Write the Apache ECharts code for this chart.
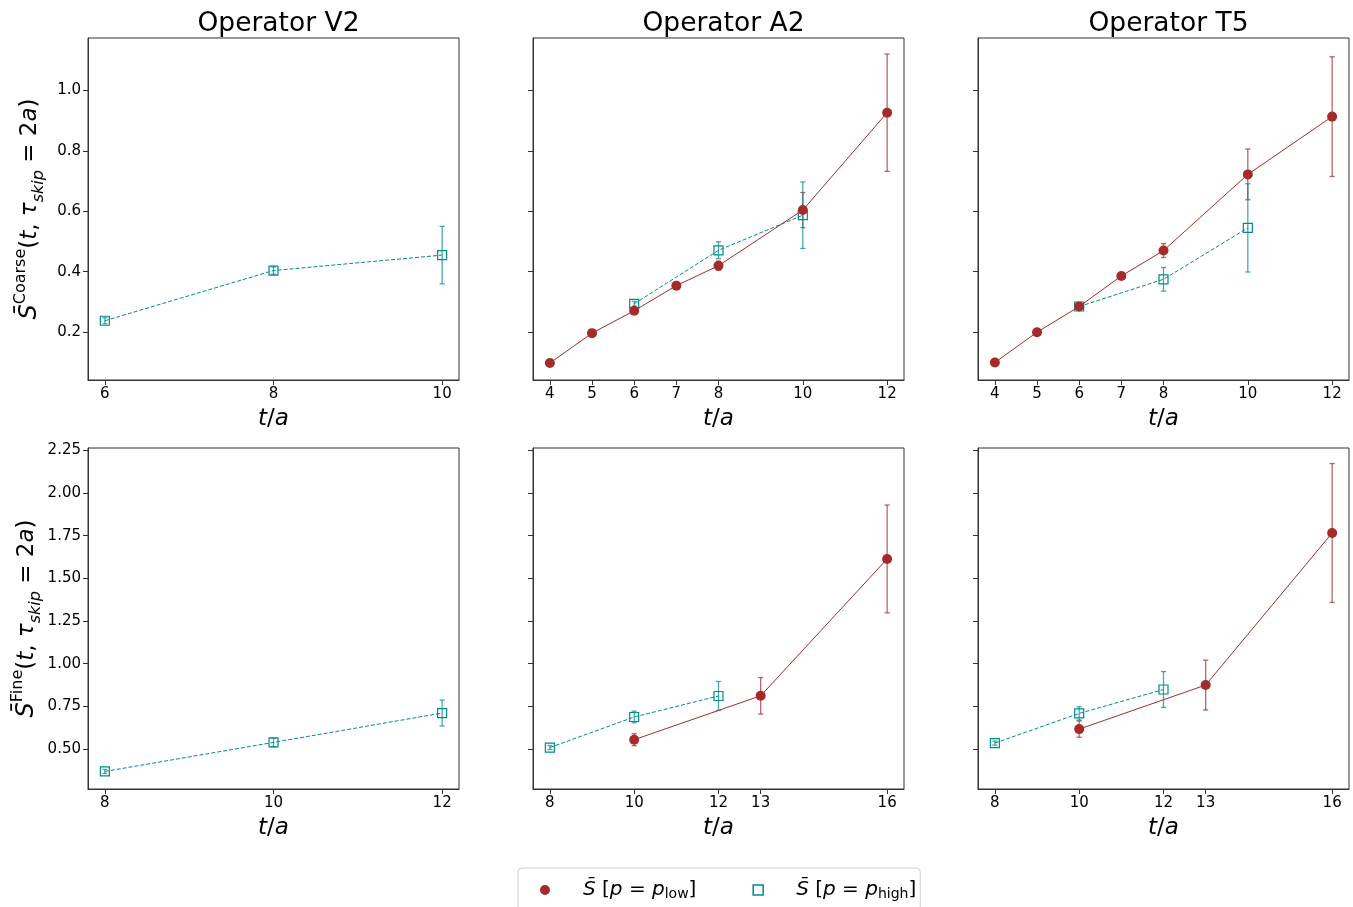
<!DOCTYPE html>
<html>
<head>
<meta charset="utf-8">
<script src="https://cdn.jsdelivr.net/npm/echarts@6/dist/echarts.min.js"></script>
<style>html,body{margin:0;padding:0;background:#fff}#c{width:1353px;height:907px}</style>
</head>
<body>
<div id="c"></div>
<script>
// ---------------- DATA ----------------
const operators = ['Operator V2', 'Operator A2', 'Operator T5'];

// Coarse (top row)
const v2CoarseXHigh = [6, 8, 10];
const v2CoarseYHigh = [0.238, 0.404, 0.455];
const v2CoarseEHigh = [0.010, 0.012, 0.095];

const a2CoarseXLow = [4, 5, 6, 7, 8, 10, 12];
const a2CoarseYLow = [0.098, 0.197, 0.271, 0.354, 0.420, 0.604, 0.926];
const a2CoarseELow = [0.004, 0.004, 0.006, 0.006, 0.015, 0.058, 0.194];
const a2CoarseXHigh = [6, 8, 10];
const a2CoarseYHigh = [0.294, 0.471, 0.587];
const a2CoarseEHigh = [0.008, 0.028, 0.110];

const t5CoarseXLow = [4, 5, 6, 7, 8, 10, 12];
const t5CoarseYLow = [0.100, 0.200, 0.285, 0.386, 0.470, 0.722, 0.913];
const t5CoarseELow = [0.004, 0.004, 0.005, 0.006, 0.023, 0.084, 0.198];
const t5CoarseXHigh = [6, 8, 10];
const t5CoarseYHigh = [0.285, 0.375, 0.545];
const t5CoarseEHigh = [0.006, 0.039, 0.146];

// Fine (bottom row)
const v2FineXHigh = [8, 10, 12];
const v2FineYHigh = [0.369, 0.539, 0.711];
const v2FineEHigh = [0.012, 0.025, 0.076];

const a2FineXLow = [10, 13, 16];
const a2FineYLow = [0.555, 0.812, 1.614];
const a2FineELow = [0.035, 0.107, 0.316];
const a2FineXHigh = [8, 10, 12];
const a2FineYHigh = [0.509, 0.688, 0.811];
const a2FineEHigh = [0.012, 0.034, 0.085];

const t5FineXLow = [10, 13, 16];
const t5FineYLow = [0.617, 0.875, 1.766];
const t5FineELow = [0.048, 0.146, 0.407];
const t5FineXHigh = [8, 10, 12];
const t5FineYHigh = [0.535, 0.709, 0.849];
const t5FineEHigh = [0.012, 0.039, 0.105];

// Ticks and axis ranges
const yTicksCoarse = [0.2, 0.4, 0.6, 0.8, 1.0];
const yTicksFine = [0.5, 0.75, 1.0, 1.25, 1.5, 1.75, 2.0, 2.25];
const yRangeCoarse = [0.042, 1.173];
const yRangeFine = [0.266, 2.264];
const xTicksV2Coarse = [6, 8, 10];
const xTicksCoarse = [4, 5, 6, 7, 8, 10, 12];
const xTicksV2Fine = [8, 10, 12];
const xTicksFine = [8, 10, 12, 13, 16];
const xRangeV2Coarse = [5.8, 10.2];
const xRangeCoarse = [3.6, 12.4];
const xRangeV2Fine = [7.8, 12.2];
const xRangeFine = [7.6, 16.4];

// ---------------- BUILD ----------------
const RED = '#a52a2a', TEAL = '#008b8b';
const FONT = 'DejaVu Sans';
const zip = (xs, ys) => xs.map((x, i) => [x, ys[i]]);
const zipErr = (xs, ys, es) => xs.map((x, i) => [x, ys[i] - es[i], ys[i] + es[i]]);

const panels = [
  {xr: xRangeV2Coarse, xt: xTicksV2Coarse, yr: yRangeCoarse, yt: yTicksCoarse, fine: false,
   low: null, high: [v2CoarseXHigh, v2CoarseYHigh, v2CoarseEHigh]},
  {xr: xRangeCoarse, xt: xTicksCoarse, yr: yRangeCoarse, yt: yTicksCoarse, fine: false,
   low: [a2CoarseXLow, a2CoarseYLow, a2CoarseELow], high: [a2CoarseXHigh, a2CoarseYHigh, a2CoarseEHigh]},
  {xr: xRangeCoarse, xt: xTicksCoarse, yr: yRangeCoarse, yt: yTicksCoarse, fine: false,
   low: [t5CoarseXLow, t5CoarseYLow, t5CoarseELow], high: [t5CoarseXHigh, t5CoarseYHigh, t5CoarseEHigh]},
  {xr: xRangeV2Fine, xt: xTicksV2Fine, yr: yRangeFine, yt: yTicksFine, fine: true,
   low: null, high: [v2FineXHigh, v2FineYHigh, v2FineEHigh]},
  {xr: xRangeFine, xt: xTicksFine, yr: yRangeFine, yt: yTicksFine, fine: true,
   low: [a2FineXLow, a2FineYLow, a2FineELow], high: [a2FineXHigh, a2FineYHigh, a2FineEHigh]},
  {xr: xRangeFine, xt: xTicksFine, yr: yRangeFine, yt: yTicksFine, fine: true,
   low: [t5FineXLow, t5FineYLow, t5FineELow], high: [t5FineXHigh, t5FineYHigh, t5FineEHigh]}
];

const colLeft = [88, 533, 978];
const rowTop = [38, 448];
const gridW = 371;
const AX = '#333';

function errRender(color) {
  return function (params, api) {
    const x = api.value(0), lo = api.value(1), hi = api.value(2);
    const p1 = api.coord([x, lo]), p2 = api.coord([x, hi]);
    const cap = 2.6;
    const st = {stroke: color, lineWidth: 1.3, opacity: 0.72};
    return {type: 'group', children: [
      {type: 'line', shape: {x1: p1[0], y1: p1[1], x2: p2[0], y2: p2[1]}, style: st},
      {type: 'line', shape: {x1: p1[0] - cap, y1: p1[1], x2: p1[0] + cap, y2: p1[1]}, style: st},
      {type: 'line', shape: {x1: p2[0] - cap, y1: p2[1], x2: p2[0] + cap, y2: p2[1]}, style: st}
    ]};
  };
}

const nameRich = {
  s: {fontFamily: FONT, fontSize: 24, fontStyle: 'italic', color: '#000', lineHeight: 34, verticalAlign: 'middle'},
  n: {fontFamily: FONT, fontSize: 23, color: '#000', lineHeight: 34, verticalAlign: 'middle'},
  i: {fontFamily: FONT, fontSize: 23, fontStyle: 'italic', color: '#000', lineHeight: 34, verticalAlign: 'middle'},
  sup: {fontFamily: FONT, fontSize: 16, color: '#000', lineHeight: 16, verticalAlign: 'top'},
  sub: {fontFamily: FONT, fontSize: 16, fontStyle: 'italic', color: '#000', lineHeight: 16, verticalAlign: 'bottom'}
};
function yName(kind) {
  return '{s|S\u0304}{sup|' + kind + '}{n|(}{i|t}{n|, }{i|\u03c4}{sub|skip}{n| = 2}{i|a}{n|)}';
}

const grids = [], xAxes = [], yAxes = [], series = [];
panels.forEach((p, k) => {
  const col = k % 3, row = Math.floor(k / 3);
  grids.push({left: colLeft[col], top: rowTop[row], width: gridW, height: row === 0 ? 342 : 341,
    show: true, borderColor: AX, borderWidth: 1, backgroundColor: 'transparent'});
  xAxes.push({type: 'value', gridIndex: k, min: p.xr[0], max: p.xr[1],
    axisLine: {show: true, onZero: false, lineStyle: {color: AX, width: 1}},
    axisTick: {show: true, inside: false, length: 5, customValues: p.xt, lineStyle: {color: AX}},
    axisLabel: {show: true, customValues: p.xt, color: '#000', fontFamily: FONT, fontSize: 15, margin: 7,
      formatter: v => String(v)},
    splitLine: {show: false},
    name: '{i|t}{n|/}{i|a}', nameLocation: 'middle', nameGap: 28,
    nameTextStyle: {fontFamily: FONT, fontSize: 23, color: '#000',
      rich: {i: {fontFamily: FONT, fontSize: 23, fontStyle: 'italic', color: '#000'},
             n: {fontFamily: FONT, fontSize: 23, color: '#000'}}}
  });
  yAxes.push({type: 'value', gridIndex: k, min: p.yr[0], max: p.yr[1],
    axisLine: {show: true, onZero: false, lineStyle: {color: AX, width: 1}},
    axisTick: {show: true, inside: false, length: 5, customValues: p.yt, lineStyle: {color: AX}},
    axisLabel: {show: col === 0, customValues: p.yt, color: '#000', fontFamily: FONT, fontSize: 15, margin: 7,
      formatter: v => v.toFixed(p.fine ? 2 : 1)},
    splitLine: {show: false},
    name: col === 0 ? yName(p.fine ? 'Fine' : 'Coarse') : '',
    nameLocation: 'middle', nameRotate: 90, nameGap: 41,
    nameTextStyle: {fontFamily: FONT, fontSize: 23, color: '#000', rich: nameRich}
  });
  if (p.low) {
    series.push({type: 'custom', xAxisIndex: k, yAxisIndex: k, renderItem: errRender(RED),
      data: zipErr(p.low[0], p.low[1], p.low[2]), encode: {x: 0, y: [1, 2]}, silent: true, z: 2});
  }
  series.push({type: 'custom', xAxisIndex: k, yAxisIndex: k, renderItem: errRender(TEAL),
    data: zipErr(p.high[0], p.high[1], p.high[2]), encode: {x: 0, y: [1, 2]}, silent: true, z: 2});
  series.push({name: 'high', type: 'line', xAxisIndex: k, yAxisIndex: k, data: zip(p.high[0], p.high[1]),
    symbol: 'rect', symbolSize: 9, showAllSymbol: true,
    itemStyle: {color: 'rgba(255,255,255,0)', borderColor: TEAL, borderWidth: 1.2},
    lineStyle: {color: TEAL, width: 1, type: [4, 2]}, z: 3, silent: true, animation: false});
  if (p.low) {
    series.push({name: 'low', type: 'line', xAxisIndex: k, yAxisIndex: k, data: zip(p.low[0], p.low[1]),
      symbol: 'circle', symbolSize: 10, showAllSymbol: true,
      itemStyle: {color: RED, borderWidth: 0},
      lineStyle: {color: RED, width: 1}, z: 4, silent: true, animation: false});
  }
});

const titles = operators.map((t, i) => ({
  text: t, left: colLeft[i] + gridW / 2, top: 6, textAlign: 'center',
  textStyle: {fontFamily: FONT, fontSize: 26.5, fontWeight: 'normal', color: '#000'}
}));

const legendRich = {
  g: {width: 28},
  s: {fontFamily: FONT, fontSize: 20, fontStyle: 'italic', color: '#000'},
  n: {fontFamily: FONT, fontSize: 20, color: '#000'},
  i: {fontFamily: FONT, fontSize: 20, fontStyle: 'italic', color: '#000'},
  sub: {fontFamily: FONT, fontSize: 14, color: '#000', verticalAlign: 'bottom', lineHeight: 12}
};

const option = {
  animation: false,
  backgroundColor: '#fff',
  title: titles,
  grid: grids,
  xAxis: xAxes,
  yAxis: yAxes,
  legend: {
    left: 518, top: 868, orient: 'horizontal',
    padding: [11, 4, 16, 22], itemGap: 56, itemWidth: 10, itemHeight: 10,
    borderColor: '#d0d0d0', borderWidth: 1, borderRadius: 4, backgroundColor: '#fff',
    data: [
      {name: 'low', icon: 'circle', itemStyle: {color: RED, borderWidth: 0}},
      {name: 'high', icon: 'rect', itemStyle: {color: 'rgba(255,255,255,0)', borderColor: TEAL, borderWidth: 1.5}}
    ],
    selectedMode: false,
    textStyle: {fontFamily: FONT, fontSize: 20, color: '#000', lineHeight: 22, rich: legendRich},
    formatter: function (name) {
      const s = name === 'low' ? 'low' : 'high';
      return '{g|}{s|S\u0304}{n| [}{i|p}{n| = }{i|p}{sub|' + s + '}{n|]}';
    }
  },
  series: series
};

const chart = echarts.init(document.getElementById('c'), null, {renderer: 'canvas'});
chart.setOption(option);
</script>
</body>
</html>
